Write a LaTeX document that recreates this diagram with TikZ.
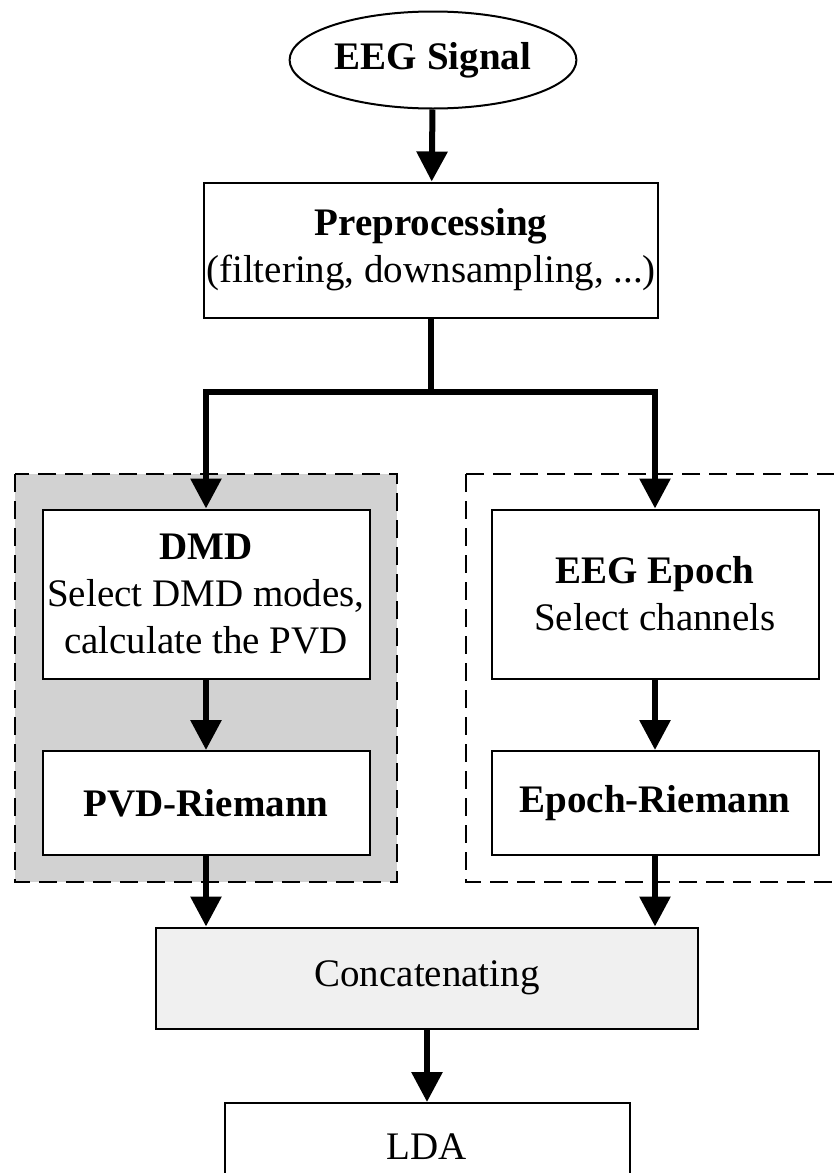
\documentclass[tikz,border=0pt]{standalone}
\usepackage{fontspec}
\setmainfont{Liberation Serif}
\usetikzlibrary{arrows.meta,shapes}

\begin{document}
\begin{tikzpicture}[x=1pt, y=-1pt,
		stage/.style={rectangle, draw, line width=2pt, fill=white, align=center, inner sep=2pt, minimum width=327pt, font=\fontsize{39}{47}\selectfont},
		flow/.style={line width=6pt, -{Triangle[length=30pt, width=30pt]}},
		group/.style={draw, line width=2.5pt, dash pattern=on 18pt off 9pt}]
		\useasboundingbox (0,0) rectangle (833,1173);

		\draw[group, fill=gray!35] (15,474) rectangle (397,882);
		\draw[group] (466,474) rectangle (850,882);

		\node[ellipse, draw, line width=2pt, minimum width=280pt, minimum height=97pt, font=\fontsize{39}{47}\selectfont] (signal) at (433,60) {\textbf{EEG Signal}};
		\node[stage, minimum width=449pt, minimum height=135pt] (prep) at (431,250) {\textbf{Preprocessing}\\(filtering, downsampling, ...)};
		\coordinate (split) at (431,392);

		\node[stage, minimum height=169pt] (dmd) at (206,594) {\textbf{DMD}\\Select DMD modes,\\calculate the PVD};
		\node[stage, minimum height=104pt] (pvd) at (206,803) {\textbf{PVD-Riemann}};
		\node[stage, minimum height=169pt] (epoch) at (655,594) {\textbf{EEG Epoch}\\Select channels};
		\node[stage, minimum height=104pt] (epriem) at (655,803) {\textbf{Epoch-Riemann}};

		\node[stage, fill=gray!12, minimum width=542pt, minimum height=101pt] (concat) at (427,978) {Concatenating};
		\node[stage, minimum width=405pt, minimum height=88pt] (lda) at (427,1147) {LDA};

		\draw[flow] (signal) -- (prep);
		\draw[line width=6pt] (prep.south) -- (split);
		\draw[flow] (split) -| (dmd.north);
		\draw[flow] (split) -| (epoch.north);
		\draw[flow] (dmd) -- (pvd);
		\draw[flow] (epoch) -- (epriem);
		\draw[flow] (pvd.south) -- (pvd.south |- concat.north);
		\draw[flow] (epriem.south) -- (epriem.south |- concat.north);
		\draw[flow] (concat) -- (lda);
\end{tikzpicture}
\end{document}
